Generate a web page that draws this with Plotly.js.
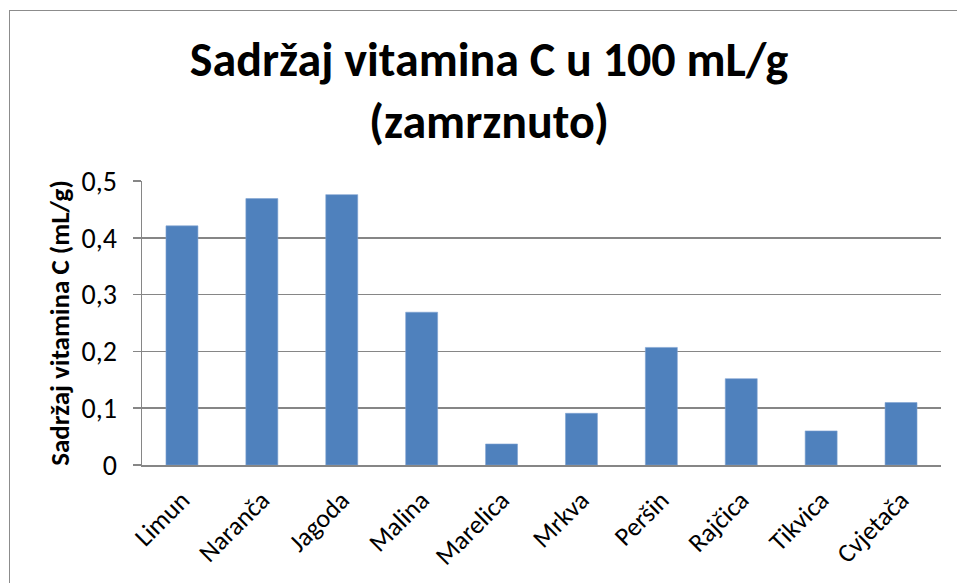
<!DOCTYPE html>
<html>
<head>
<meta charset="utf-8">
<script src="https://cdn.plot.ly/plotly-3.0.1.min.js"></script>
<style>
  html, body { margin: 0; padding: 0; background: #fff; }
  #wrap { position: relative; width: 957px; height: 583px; overflow: hidden; }
  #chart { position: absolute; left: 0; top: 0; width: 957px; height: 583px; }
  #frame { position: absolute; left: 9px; top: 10px; width: 960px; height: 600px;
           border: 1.5px solid #8c8c8c; box-sizing: border-box; pointer-events: none; }
</style>
</head>
<body>
<div id="wrap">
  <div id="chart"></div>
  <div id="frame"></div>
</div>
<script>
const categories = ["Limun", "Naranča", "Jagoda", "Malina", "Marelica", "Mrkva", "Peršin", "Rajčica", "Tikvica", "Cvjetača"];
const values = [0.421, 0.469, 0.476, 0.269, 0.037, 0.091, 0.207, 0.152, 0.060, 0.110];
const yTickValues = [0, 0.1, 0.2, 0.3, 0.4, 0.5];
const yTickLabels = ["0", "0,1", "0,2", "0,3", "0,4", "0,5"];

const FONT = "Carlito, Calibri, 'Open Sans', sans-serif";

const trace = {
  type: "bar",
  x: categories,
  y: values,
  marker: { color: "#4F81BD", line: { color: "#7FA3D1", width: 0.6 } },
  hoverinfo: "x+y"
};

const layout = {
  width: 957,
  height: 583,
  margin: { l: 142, r: 16, t: 181, b: 118 },
  paper_bgcolor: "rgba(0,0,0,0)",
  plot_bgcolor: "#fff",
  showlegend: false,
  bargap: 0.6,
  font: { family: FONT, color: "#000" },
  title: {
    text: "<b>Sadržaj vitamina C u 100 mL/g<br>(zamrznuto)</b>",
    font: { family: FONT, size: 48, color: "#000" },
    x: 489 / 957, xref: "container", xanchor: "center",
    y: 1 - 76 / 583, yref: "container", yanchor: "middle"
  },
  xaxis: {
    type: "category",
    tickangle: -45,
    tickfont: { family: FONT, size: 26, color: "#000" },
    ticklabelstandoff: 8,
    showline: true, linecolor: "#868686", linewidth: 1.5,
    showgrid: false, ticks: "", fixedrange: true
  },
  yaxis: {
    range: [0, 0.5],
    tickvals: yTickValues,
    ticktext: yTickLabels,
    tickfont: { family: FONT, size: 28, color: "#000" },
    ticklabelstandoff: 10,
    ticks: "outside", ticklen: 8, tickcolor: "#868686", tickwidth: 1.5,
    showline: true, linecolor: "#868686", linewidth: 1.5,
    showgrid: true, gridcolor: "#868686", gridwidth: 1.5,
    zeroline: false,
    title: {
      text: "<b>Sadržaj vitamina C (mL/g)</b>",
      font: { family: FONT, size: 27, color: "#000" },
      standoff: 4
    },
    automargin: false, fixedrange: true
  }
};

Plotly.newPlot("chart", [trace], layout, { staticPlot: true, displayModeBar: false });
</script>
</body>
</html>
